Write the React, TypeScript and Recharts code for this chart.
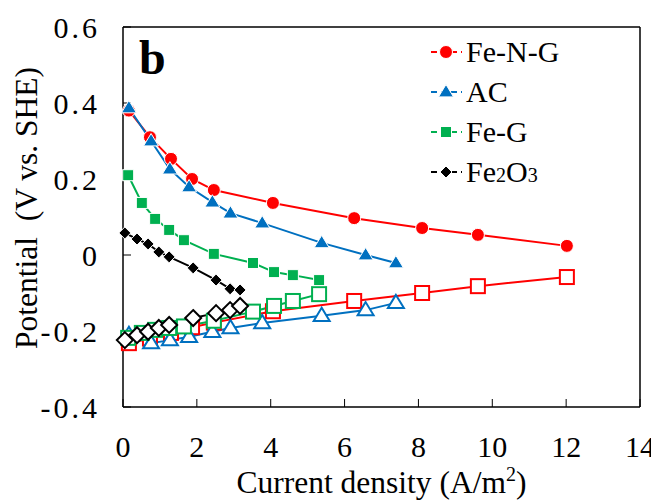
import { LineChart, Line, XAxis, YAxis, Label, ReferenceLine } from 'recharts'

// current density (A/m2) per catalyst
const fengX = [0.16, 0.73, 1.3, 1.87, 2.46, 4.06, 6.26, 8.1, 9.61, 12.02]
const fengCathode = [0.38, 0.31, 0.253, 0.2, 0.171, 0.137, 0.097, 0.071, 0.053, 0.024]
const fengAnode = [-0.232, -0.22, -0.205, -0.19, -0.178, -0.148, -0.121, -0.1, -0.082, -0.058]

const acX = [0.16, 0.76, 1.27, 1.79, 2.42, 2.91, 3.77, 5.38, 6.57, 7.39]
const acCathode = [0.387, 0.3, 0.226, 0.179, 0.139, 0.11, 0.084, 0.032, 0.0, -0.021]
const acAnode = [-0.21, -0.232, -0.224, -0.215, -0.202, -0.192, -0.179, -0.16, -0.145, -0.126]

const fegX = [0.14, 0.51, 0.87, 1.25, 1.65, 2.46, 3.52, 4.09, 4.6, 5.31]
const fegCathode = [0.21, 0.137, 0.095, 0.066, 0.039, 0.003, -0.021, -0.045, -0.053, -0.066]
const fegAnode = [-0.218, -0.205, -0.197, -0.192, -0.188, -0.173, -0.149, -0.134, -0.121, -0.103]

const fe2o3X = [0.05, 0.38, 0.68, 0.97, 1.25, 1.9, 2.52, 2.9, 3.17]
const fe2o3Cathode = [0.058, 0.042, 0.029, 0.008, -0.005, -0.034, -0.066, -0.089, -0.092]
const fe2o3Anode = [-0.224, -0.211, -0.202, -0.192, -0.184, -0.166, -0.153, -0.145, -0.134]

const xTicks = [0, 2, 4, 6, 8, 10, 12, 14]
const yTicks = [-0.4, -0.2, 0, 0.2, 0.4, 0.6]

const pair = (xs: number[], ys: number[]) => xs.map((x, i) => ({ x, y: ys[i] }))

const FONT = '"Liberation Serif", "Times New Roman", serif'
const RED = '#ff0000'
const BLUE = '#0070c0'
const GREEN = '#00b050'
const BLACK = '#000000'

type Shape = 'circle' | 'triangle' | 'square' | 'diamond'

function marker(shape: Shape, color: string, open: boolean) {
  return (p: any) => {
    const { cx, cy, index } = p
    const fill = open ? '#fff' : color
    const stroke = open ? color : '#fff'
    const sw = open ? 2 : 1
    if (shape === 'circle') {
      return <circle key={index} cx={cx} cy={cy} r={6.5} fill={fill} stroke={stroke} strokeWidth={sw} />
    }
    if (shape === 'triangle') {
      const s = open ? 8 : 7.5
      const pts = `${cx},${cy - s} ${cx - s},${cy + s * 0.65} ${cx + s},${cy + s * 0.65}`
      return <polygon key={index} points={pts} fill={fill} stroke={stroke} strokeWidth={sw} />
    }
    if (shape === 'square') {
      const h = open ? 7 : 5.5
      return <rect key={index} x={cx - h} y={cy - h} width={h * 2} height={h * 2} fill={fill} stroke={stroke} strokeWidth={sw} />
    }
    const d = open ? 8 : 6
    const pts = `${cx},${cy - d} ${cx + d},${cy} ${cx},${cy + d} ${cx - d},${cy}`
    return <polygon key={index} points={pts} fill={fill} stroke={stroke} strokeWidth={sw} />
  }
}

const series = [
  { name: 'Fe-N-G', color: RED, shape: 'circle' as Shape, xs: fengX, cathode: fengCathode, anode: fengAnode, openShape: 'square' as Shape },
  { name: 'AC', color: BLUE, shape: 'triangle' as Shape, xs: acX, cathode: acCathode, anode: acAnode, openShape: 'triangle' as Shape },
  { name: 'Fe-G', color: GREEN, shape: 'square' as Shape, xs: fegX, cathode: fegCathode, anode: fegAnode, openShape: 'square' as Shape },
  { name: 'Fe2O3', color: BLACK, shape: 'diamond' as Shape, xs: fe2o3X, cathode: fe2o3Cathode, anode: fe2o3Anode, openShape: 'diamond' as Shape },
]

function LegendIcon({ shape, color }: { shape: Shape; color: string }) {
  const m = marker(shape, color, false)
  return (
    <svg width={34} height={16} style={{ display: 'block' }}>
      <line x1={1} y1={8} x2={33} y2={8} stroke={color} strokeWidth={2} strokeDasharray="6 4" strokeDashoffset={-1} />
      {m({ cx: 17, cy: 8, index: 0 })}
    </svg>
  )
}

function XTitle(props: any) {
  const { viewBox } = props
  const x = viewBox.x + viewBox.width / 2
  return (
    <text x={x} y={485} textAnchor="middle" fontFamily={FONT} fontSize={31.5} fill="#000">
      Current density (A/m<tspan fontSize={20} dy={-12}>2</tspan><tspan dy={12}>)</tspan>
    </text>
  )
}

function YTitle() {
  return (
    <text x={0} y={0} transform="translate(29,200) rotate(-90)" textAnchor="middle" fontFamily={FONT} fontSize={31.5} fill="#000" style={{ whiteSpace: 'pre' }}>
      {'Potential  (V vs. SHE)'}
    </text>
  )
}

export default function App() {
  const tickStyle = { fontFamily: FONT, fontSize: 30, fill: '#000' }
  const yTickStyle = { ...tickStyle, letterSpacing: 3 }
  return (
    <div style={{ position: 'relative', width: 651, height: 492, background: '#fff' }}>
      <LineChart width={651} height={492} margin={{ top: 19, right: 19, bottom: 3, left: 0 }}>
        <XAxis
          type="number"
          dataKey="x"
          domain={[0, 14]}
          ticks={xTicks}
          interval={0}
          height={90}
          tickSize={-8}
          tickMargin={37}
          tick={tickStyle}
          axisLine={{ stroke: '#000', strokeWidth: 1.5 }}
          tickLine={{ stroke: '#000', strokeWidth: 1 }}
        >
          <Label content={<XTitle />} />
        </XAxis>
        <YAxis
          type="number"
          domain={[-0.4, 0.6]}
          ticks={yTicks}
          interval={0}
          width={115}
          tickSize={-8}
          tickMargin={31}
          tick={yTickStyle}
          tickFormatter={(v: number) => (v === 0 ? '0' : v.toFixed(1))}
          axisLine={{ stroke: '#000', strokeWidth: 1.5 }}
          tickLine={{ stroke: '#000', strokeWidth: 1 }}
        >
          <Label content={<YTitle />} />
        </YAxis>
        <ReferenceLine y={0.6} stroke="#000" strokeWidth={1.5} />
        <ReferenceLine x={14} stroke="#000" strokeWidth={1.5} />
        {series.map((s) => (
          <Line
            key={s.name + '-anode'}
            data={pair(s.xs, s.anode)}
            dataKey="y"
            stroke={s.color}
            strokeWidth={2}
            dot={marker(s.openShape, s.color, true)}
            activeDot={false}
            isAnimationActive={false}
          />
        ))}
        {series.map((s) => (
          <Line
            key={s.name + '-cathode'}
            data={pair(s.xs, s.cathode)}
            dataKey="y"
            stroke={s.color}
            strokeWidth={2}
            dot={marker(s.shape, s.color, false)}
            activeDot={false}
            isAnimationActive={false}
          />
        ))}
      </LineChart>
      <div style={{ position: 'absolute', left: 131, top: 26, fontFamily: FONT, fontSize: 48, fontWeight: 'bold', lineHeight: 1 }}>b</div>
      <div style={{ position: 'absolute', left: 421, top: 24, fontFamily: FONT, fontSize: 30 }}>
        {series.map((s) => (
          <div key={s.name} style={{ display: 'flex', alignItems: 'center', height: 40 }}>
            <LegendIcon shape={s.shape} color={s.color} />
            <span style={{ marginLeft: 3 }}>
              {s.name === 'Fe2O3' ? (
                <>Fe<span style={{ fontSize: 20 }}>2</span>O<span style={{ fontSize: 20 }}>3</span></>
              ) : (
                s.name
              )}
            </span>
          </div>
        ))}
      </div>
    </div>
  )
}
